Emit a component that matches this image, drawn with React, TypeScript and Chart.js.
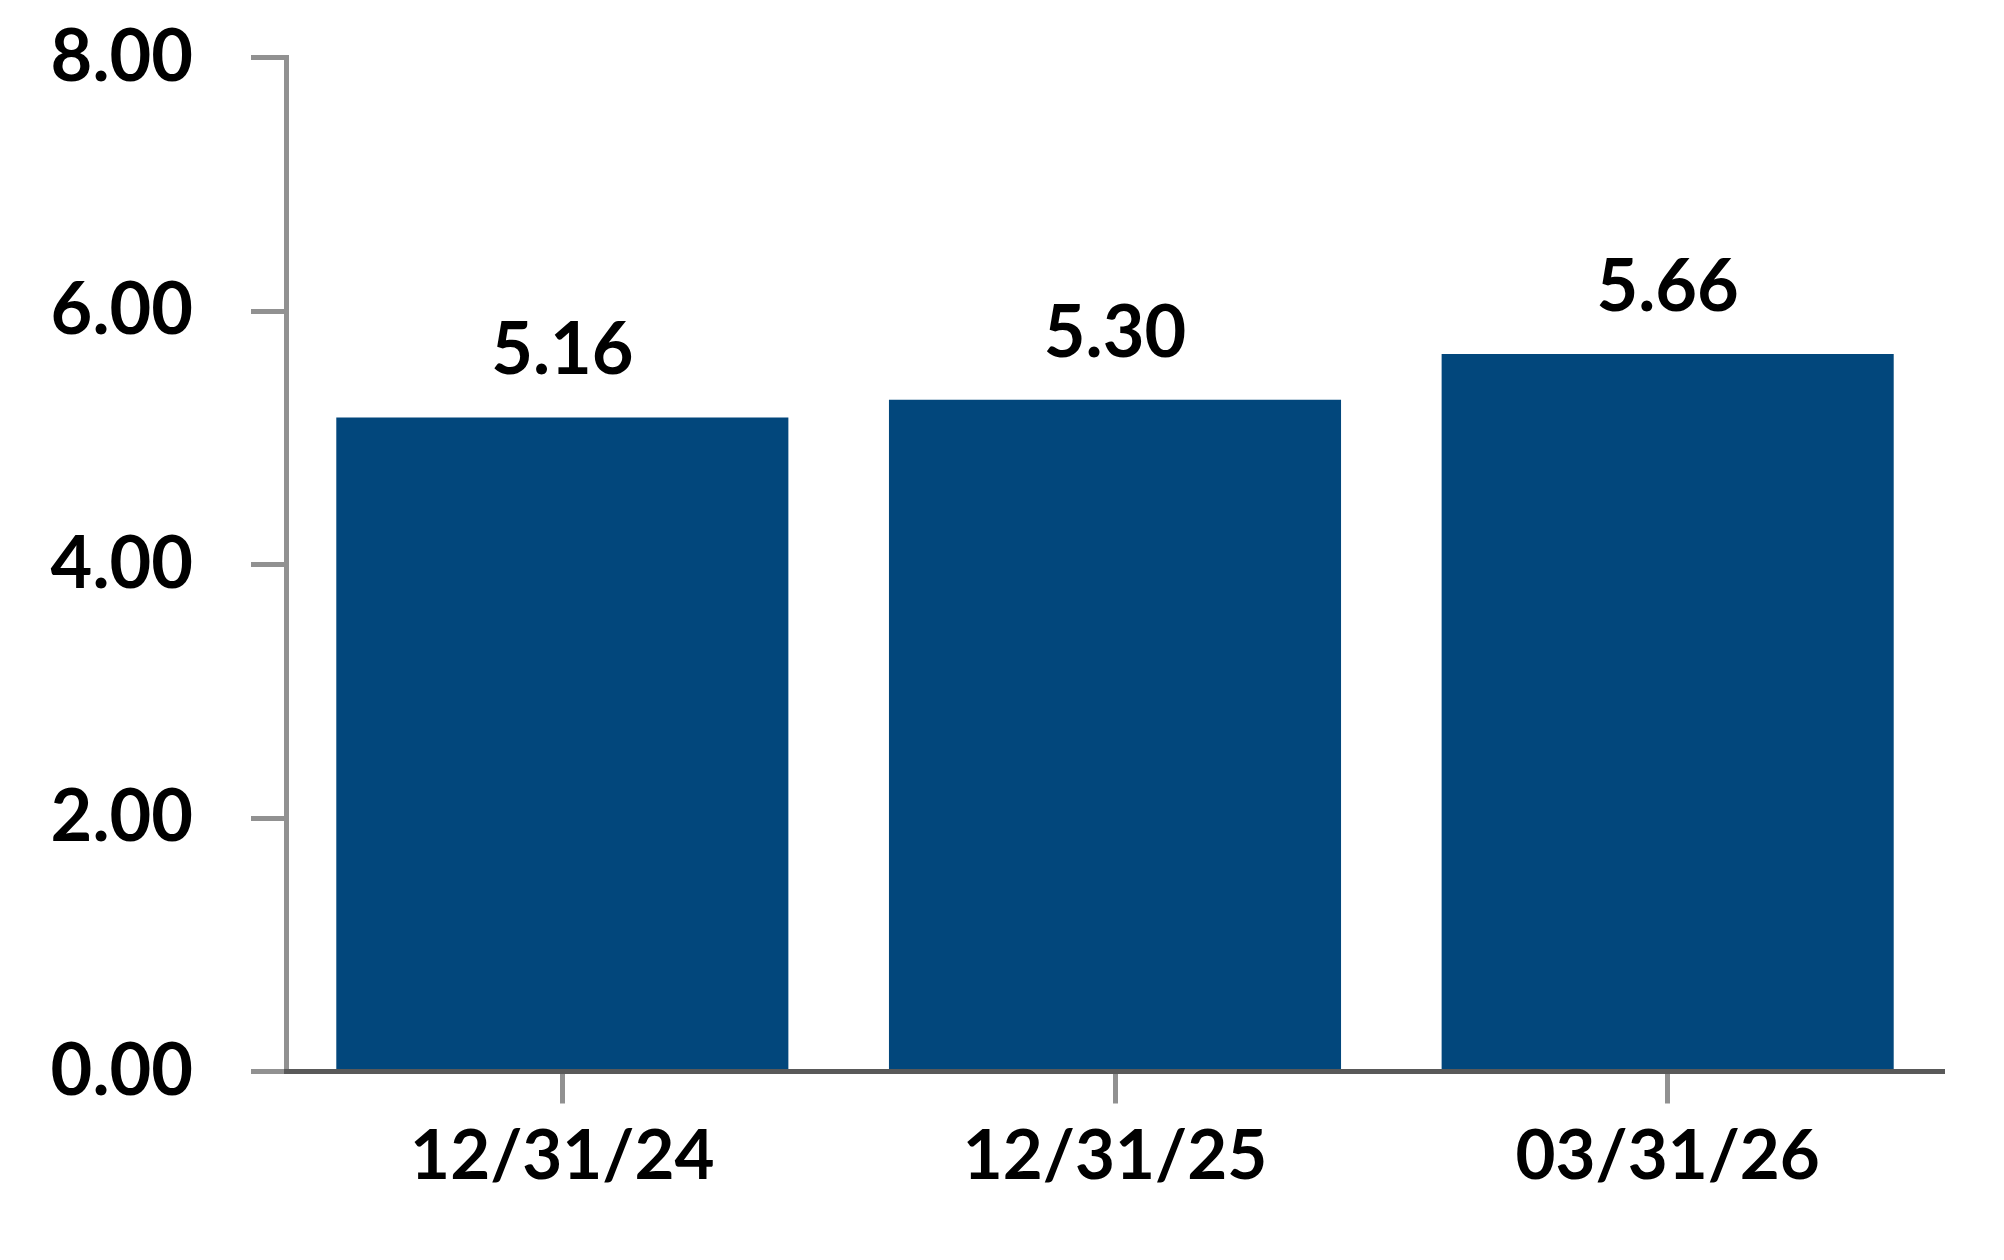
import React, { useEffect, useRef } from "react";
import { Chart, registerables } from "chart.js";

Chart.register(...registerables);

const categories: string[] = ["12/31/24", "12/31/25", "03/31/26"];
const values: number[] = [5.16, 5.3, 5.66];
const yTicks: number[] = [0, 2, 4, 6, 8];

const BAR_COLOR = "#02477c";
const FONT_FAMILY = "Lato, 'Liberation Sans', sans-serif";

const barLabelPlugin = {
  id: "barLabels",
  afterDatasetsDraw(chart: any) {
    const ctx = chart.ctx;
    const meta = chart.getDatasetMeta(0);
    ctx.save();
    ctx.font = `bold 72px ${FONT_FAMILY}`;
    ctx.fillStyle = "#000000";
    ctx.textAlign = "center";
    ctx.textBaseline = "alphabetic";
    meta.data.forEach((bar: any, i: number) => {
      ctx.fillText(values[i].toFixed(2), bar.x, bar.y - 43);
    });
    ctx.restore();
  },
};

export default function App() {
  const ref = useRef<HTMLCanvasElement | null>(null);

  useEffect(() => {
    document.body.style.margin = "0";
    if (!ref.current) return;
    const chart = new Chart(ref.current, {
      type: "bar",
      data: {
        labels: categories,
        datasets: [
          {
            data: values,
            backgroundColor: BAR_COLOR,
            borderWidth: 0,
            barPercentage: 0.818,
            categoryPercentage: 1,
          },
        ],
      },
      options: {
        animation: false,
        responsive: false,
        devicePixelRatio: 1,
        layout: { padding: { top: 57.5, right: 60, bottom: 0, left: 0 } },
        plugins: {
          legend: { display: false },
          tooltip: { enabled: false },
        },
        scales: {
          x: {
            afterFit: (scale: any) => {
              scale.height = 188.5;
            },
            grid: {
              offset: false,
              drawOnChartArea: false,
              drawTicks: true,
              tickLength: 32,
              tickWidth: 5,
              tickColor: "#919191",
            },
            border: { display: true, color: "#595959", width: 5, z: 1 },
            ticks: {
              padding: 12,
              color: "#000000",
              font: { family: FONT_FAMILY, size: 69, weight: "bold" },
              maxRotation: 0,
            },
          },
          y: {
            min: 0,
            max: 8,
            afterFit: (scale: any) => {
              scale.width = 286;
              scale.paddingTop = 0;
              scale.paddingBottom = 0;
            },
            afterBuildTicks: (scale: any) => {
              scale.ticks = yTicks.map((v) => ({ value: v }));
            },
            grid: {
              drawOnChartArea: false,
              drawTicks: true,
              tickLength: 35,
              tickWidth: 5,
              tickColor: "#919191",
            },
            border: { display: true, color: "#919191", width: 5 },
            ticks: {
              padding: 58,
              color: "#000000",
              font: { family: FONT_FAMILY, size: 72, weight: "bold" },
              callback: (v: any) => Number(v).toFixed(2),
            },
          },
        },
      },
      plugins: [barLabelPlugin],
    });
    return () => chart.destroy();
  }, []);

  return (
    <div style={{ width: 2004, height: 1260, position: "relative" }}>
      <canvas ref={ref} width={2004} height={1260} style={{ display: "block" }} />
    </div>
  );
}
